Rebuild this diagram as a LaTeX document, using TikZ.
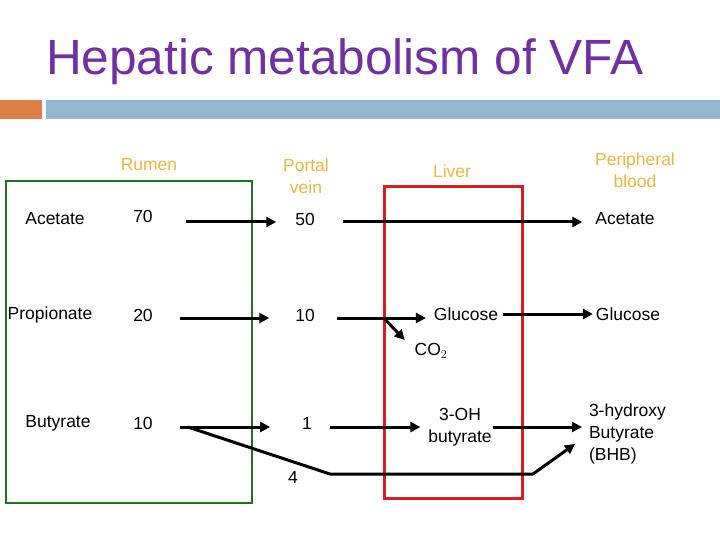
\documentclass[tikz,border=0pt]{standalone}
\usepackage{fontspec}
\setmainfont{Liberation Sans}
\usetikzlibrary{arrows.meta,calc}
\definecolor{titlepurple}{RGB}{112,48,160}
\definecolor{barorange}{RGB}{221,128,71}
\definecolor{barblue}{RGB}{148,182,210}
\definecolor{headgold}{RGB}{229,183,68}
\definecolor{boxgreen}{RGB}{31,112,31}
\definecolor{boxred}{RGB}{212,30,36}
\begin{document}
\begin{tikzpicture}[x=1pt,y=-1pt,
  txt/.style={inner sep=0pt,outer sep=0pt,font=\fontsize{17.5}{22}\selectfont,align=center},
  head/.style={txt,text=headgold},
  arr/.style={line width=3pt,-{Triangle[length=10pt,width=10pt]}}]
\useasboundingbox (0,0) rectangle (720,540);
% title and bar
\node[inner sep=0pt,anchor=base west,text=titlepurple,font=\fontsize{49.5}{55}\selectfont] (title) at (46,75) {Hepatic metabolism of VFA};
\fill[barorange] (0,100) rectangle (42,119);
\fill[barblue] (46,100) rectangle (720,119);
% boxes
\draw[boxgreen,line width=2.8pt] (6,181) rectangle (252,503);
\draw[boxred,line width=3pt] (384,187) rectangle (522,498);
% headers
\node[head] (rumenH) at (149,165) {Rumen};
\node[head] (portalH) at (306,176) {Portal\\vein};
\node[head] (liverH) at (452,171) {Liver};
\node[head] (periphH) at (635,170) {Peripheral\\blood};
% row labels
\node[txt] (acet) at (55,219) {Acetate};
\node[txt] (prop) at (50,315) {Propionate};
\node[txt] (buty) at (58,423) {Butyrate};
% numbers
\node[txt] (n70) at (143,216) {70};
\node[txt] (n20) at (143,315) {20};
\node[txt] (n10r) at (143,423) {10};
\node[txt] (n50) at (305,219) {50};
\node[txt] (n10p) at (305,315) {10};
\node[txt] (n1) at (307,423) {1};
\node[txt] (n4) at (293,477) {4};
% liver and blood
\node[txt] (glucL) at (466,314) {Glucose};
\node[txt] (glucP) at (628,314) {Glucose};
\node[txt] (acetP) at (625,219) {Acetate};
\node[txt] (co2) at (431,351) {CO$_2$};
\node[txt] (oh) at (460,427.5) {3-OH\\butyrate};
\node[txt,align=left,anchor=west] (bhb) at (589,434) {3-hydroxy\\Butyrate\\(BHB)};
% acetate
\draw[arr] ($(n70.east)+(33,6)$) -- ($(n50.west)+(-19,3)$);
\draw[arr] ($(n50.east)+(28,3)$) -- ($(acetP.west)+(-13,3)$);
% propionate
\draw[arr] ($(n20.east)+(27,3)$) -- ($(n10p.west)+(-26,3)$);
\draw[arr] ($(n10p.east)+(22,3)$) -- ($(glucL.west)+(-8,4)$);
\draw[arr] ($(glucL.east)+(5,0)$) -- ($(glucP.west)+(-3,0)$);
\coordinate (co2src) at ($(n10p.east)+(70,4)$);
\draw[arr] (co2src) -- ($(co2.west)+(-10,-11)$);
% butyrate
\draw[arr] ($(n10r.east)+(27,4)$) -- ($(n1.west)+(-32,4)$);
\draw[arr] ($(n1.east)+(18,4)$) -- ($(oh.west)+(-8,-0.5)$);
\draw[arr] ($(oh.east)+(1,-0.5)$) -- ($(bhb.west)+(-7,-7)$);
\coordinate (k1) at ($(n4)+(37,-3)$);
\coordinate (k2) at ($(bhb.west)+(-56,40)$);
\draw[arr,line join=round] ($(n10r.east)+(35,4)$) -- (k1) -- (k2) -- ($(bhb.west)+(-14,10)$);
\end{tikzpicture}
\end{document}
